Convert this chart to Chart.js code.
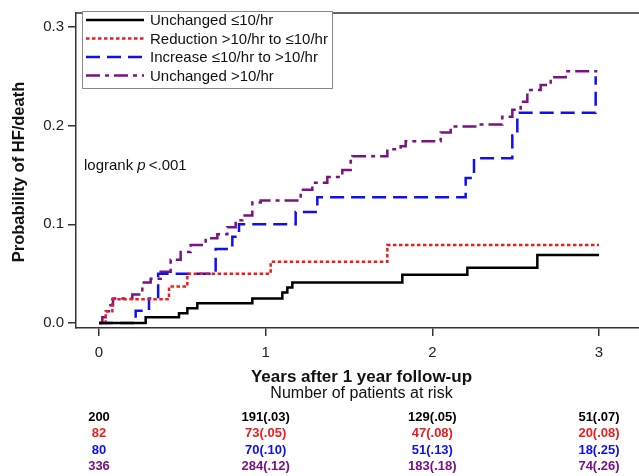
<!DOCTYPE html>
<html>
<head>
<meta charset="utf-8">
<script src="https://cdn.jsdelivr.net/npm/chart.js@4.4.1/dist/chart.umd.min.js"></script>
<style>
  html, body { margin: 0; padding: 0; background: #fff; }
  #wrap { width: 639px; height: 476px; position: relative; }
</style>
</head>
<body>
<div id="wrap"><canvas id="km"></canvas></div>
<script>
// Kaplan-Meier data (years, cumulative probability)
const blackT = [0, 0.28, 0.48, 0.53, 0.59, 0.92, 1.10, 1.13, 1.16, 1.82, 2.21, 2.63, 3.0];
const blackP = [0, 0.006, 0.010, 0.015, 0.020, 0.025, 0.031, 0.036, 0.041, 0.049, 0.056, 0.069, 0.069];

const redT = [0, 0.04, 0.08, 0.42, 0.53, 1.03, 1.73, 3.0];
const redP = [0, 0.012, 0.024, 0.037, 0.050, 0.062, 0.079, 0.079];

const blueT = [0, 0.22, 0.30, 0.355, 0.70, 0.80, 0.84, 1.18, 1.31, 2.20, 2.25, 2.48, 2.51, 2.98];
const blueP = [0, 0.0125, 0.025, 0.05, 0.075, 0.0875, 0.10, 0.1125, 0.1275, 0.147, 0.167, 0.19, 0.213, 0.25];

const purpleT = [0, 0.02, 0.04, 0.06, 0.084, 0.20, 0.26, 0.31, 0.37, 0.43, 0.49, 0.55, 0.64, 0.71, 0.77, 0.82, 0.86, 0.92, 0.97,
                 1.21, 1.28, 1.37, 1.46, 1.51, 1.52, 1.73, 1.81, 1.84, 2.05, 2.11, 2.27, 2.42, 2.48, 2.53, 2.57, 2.65, 2.71, 2.80, 2.99];
const purpleP = [0, 0.006, 0.012, 0.018, 0.025, 0.029, 0.041, 0.045, 0.052, 0.064, 0.072, 0.079, 0.086, 0.090, 0.097, 0.104, 0.109, 0.122, 0.124,
                 0.135, 0.142, 0.148, 0.155, 0.164, 0.169, 0.176, 0.179, 0.184, 0.193, 0.199, 0.201, 0.209, 0.216, 0.224, 0.236, 0.241, 0.249, 0.255, 0.255];

const seriesNames = ['Unchanged \u226410/hr', 'Reduction >10/hr to \u226410/hr', 'Increase \u226410/hr to >10/hr', 'Unchanged >10/hr'];
const seriesColors = ['#000000', '#ee1c1c', '#1010ee', '#7a1283'];
const seriesDash = [[], [3.5, 2.5], [14, 7], [14, 5, 4, 5]];

const xTicks = [0, 1, 2, 3];
const yTicks = [0, 0.1, 0.2, 0.3];

// number at risk (cumulative event rate) at each x tick
const riskTimes = [0, 1, 2, 3];
const riskBlack = ['200', '191(.03)', '129(.05)', '51(.07)'];
const riskRed = ['82', '73(.05)', '47(.08)', '20(.08)'];
const riskBlue = ['80', '70(.10)', '51(.13)', '18(.25)'];
const riskPurple = ['336', '284(.12)', '183(.18)', '74(.26)'];

function pts(t, p) { return t.map((v, i) => ({ x: v, y: p[i] })); }
const allT = [blackT, redT, blueT, purpleT];
const allP = [blackP, redP, blueP, purpleP];

const FONT = 'Arial, "Liberation Sans", sans-serif';

const extras = {
  id: 'extras',
  afterDraw(chart) {
    const ctx = chart.ctx;
    const a = chart.chartArea;
    const xs = chart.scales.x;
    ctx.save();
    // top frame line
    ctx.strokeStyle = '#333';
    ctx.lineWidth = 1.5;
    ctx.beginPath();
    ctx.moveTo(a.left, a.top);
    ctx.lineTo(a.right, a.top);
    ctx.stroke();

    // y title
    ctx.fillStyle = '#111';
    ctx.font = 'bold 16.5px ' + FONT;
    ctx.textAlign = 'center';
    ctx.textBaseline = 'middle';
    ctx.save();
    ctx.translate(19, 172);
    ctx.rotate(-Math.PI / 2);
    ctx.fillText('Probability of HF/death', 0, 0);
    ctx.restore();

    // legend
    const lx = 82, ly = 11, lw = 250, lh = 77;
    ctx.fillStyle = '#fff';
    ctx.fillRect(lx, ly, lw, lh);
    ctx.strokeStyle = '#888';
    ctx.lineWidth = 1;
    ctx.strokeRect(lx + 0.5, ly + 0.5, lw, lh);
    ctx.font = '15px ' + FONT;
    ctx.textAlign = 'left';
    seriesNames.forEach((name, i) => {
      const y = 20 + i * 18.5;
      ctx.strokeStyle = seriesColors[i];
      ctx.lineWidth = 2.5;
      ctx.setLineDash(seriesDash[i]);
      ctx.beginPath();
      ctx.moveTo(86, y);
      ctx.lineTo(144, y);
      ctx.stroke();
      ctx.setLineDash([]);
      ctx.fillStyle = '#111';
      ctx.fillText(name, 150, y + 1);
    });

    // logrank text
    ctx.fillStyle = '#111';
    ctx.font = '15px ' + FONT;
    let tx = 84;
    const ty = 166;
    ctx.fillText('logrank ', tx, ty);
    tx += ctx.measureText('logrank ').width;
    ctx.font = 'italic 15px ' + FONT;
    ctx.fillText('p', tx, ty);
    tx += ctx.measureText('p').width + 3;
    ctx.font = '15px ' + FONT;
    ctx.fillText('<.001', tx, ty);

    // x title and risk table
    const cx = (a.left + a.right) / 2 + 4;
    ctx.textAlign = 'center';
    ctx.font = 'bold 17px ' + FONT;
    ctx.fillText('Years after 1 year follow-up', cx, 377);
    ctx.font = '16px ' + FONT;
    ctx.fillText('Number of patients at risk', cx, 394);
    const rows = [riskBlack, riskRed, riskBlue, riskPurple];
    ctx.font = 'bold 13px ' + FONT;
    rows.forEach((row, r) => {
      ctx.fillStyle = seriesColors[r];
      row.forEach((txt, c) => {
        ctx.fillText(txt, xs.getPixelForValue(riskTimes[c]), 417 + r * 16.5);
      });
    });
    ctx.restore();
  }
};

new Chart(document.getElementById('km'), {
  type: 'line',
  data: {
    datasets: seriesNames.map((name, i) => ({
      label: name,
      data: pts(allT[i], allP[i]),
      borderColor: seriesColors[i],
      borderWidth: 2.5,
      borderDash: seriesDash[i],
      stepped: 'before',
      pointRadius: 0,
      fill: false
    }))
  },
  options: {
    responsive: true,
    maintainAspectRatio: false,
    animation: false,
    layout: { padding: { top: 6, right: 0, left: 0, bottom: 0 } },
    plugins: { legend: { display: false }, tooltip: { enabled: false } },
    scales: {
      x: {
        type: 'linear',
        min: -0.138,
        max: 3.24,
        afterBuildTicks: s => { s.ticks = xTicks.map(v => ({ value: v })); },
        afterFit: s => { s.height = 148; },
        grid: { drawOnChartArea: false, drawTicks: true, tickLength: 8, color: '#333', lineWidth: 1.5 },
        border: { display: true, color: '#333', width: 1.5 },
        ticks: { font: { size: 15, family: FONT }, color: '#222', padding: 8, maxRotation: 0 }
      },
      y: {
        type: 'linear',
        min: -0.005,
        max: 0.314,
        afterBuildTicks: s => { s.ticks = yTicks.map(v => ({ value: v })); },
        afterFit: s => { s.width = 76; },
        grid: { drawOnChartArea: false, drawTicks: true, tickLength: 8, color: '#333', lineWidth: 1.5 },
        border: { display: true, color: '#333', width: 1.5 },
        ticks: { font: { size: 15, family: FONT }, color: '#222', padding: 4, callback: v => v.toFixed(1) }
      }
    }
  },
  plugins: [extras]
});
</script>
</body>
</html>
